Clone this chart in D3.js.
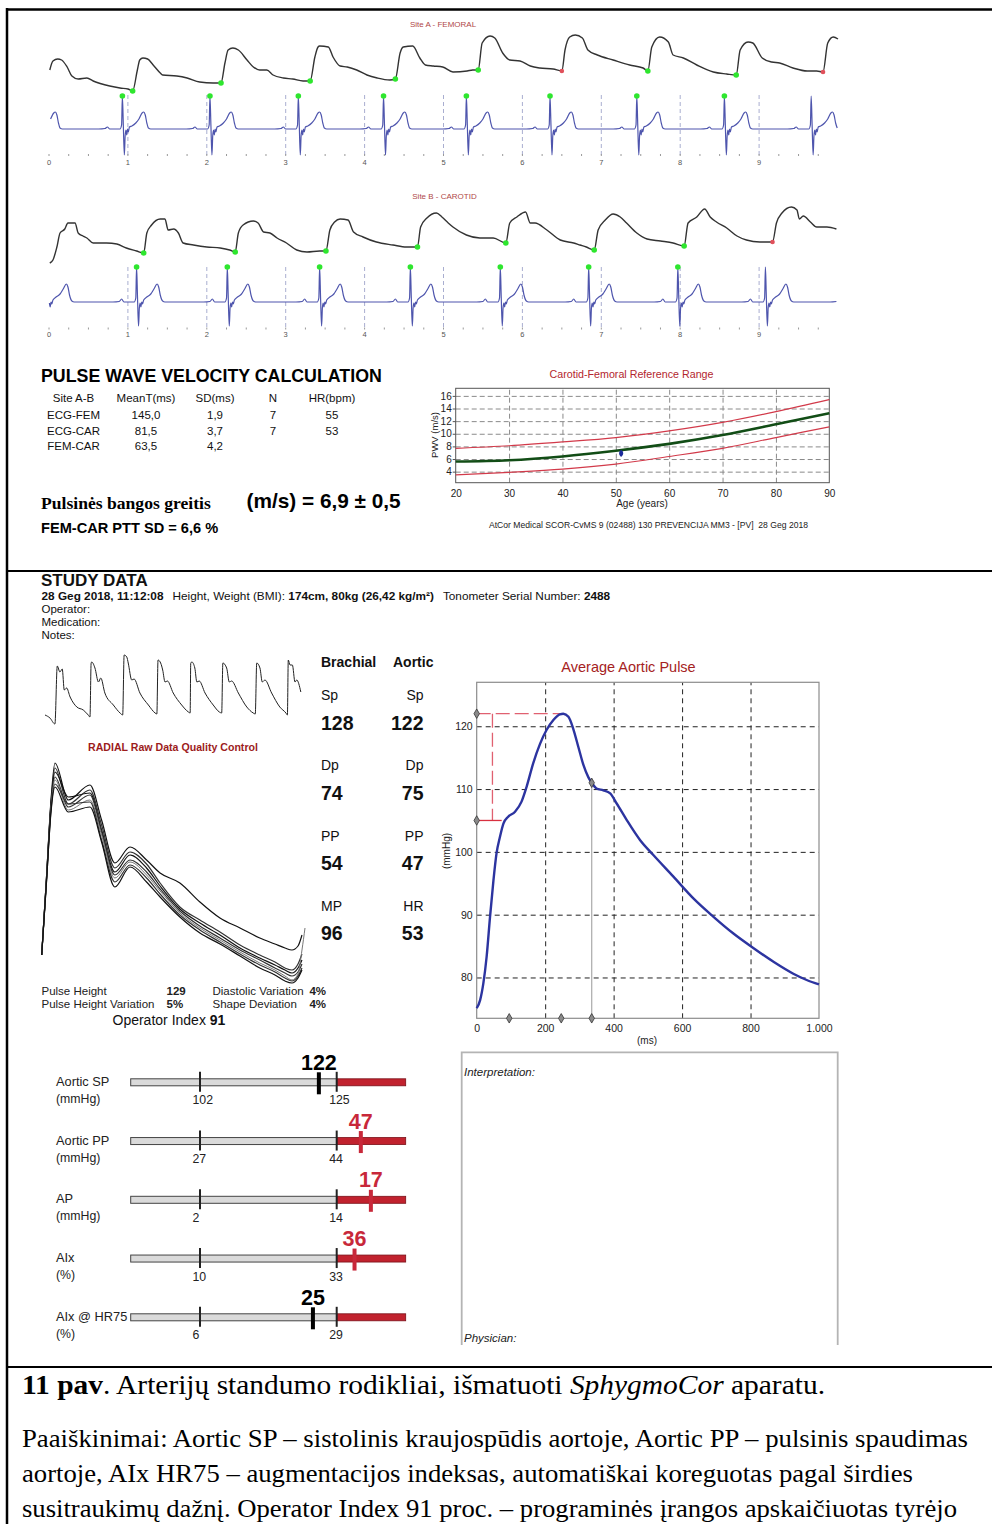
<!DOCTYPE html>
<html lang="lt">
<head>
<meta charset="utf-8">
<title>SphygmoCor – arterijų standumo rodikliai</title>
<script src="https://cdn.jsdelivr.net/npm/d3@7/dist/d3.min.js"></script>
<style>
  html, body { margin: 0; padding: 0; background: #fff; }
  svg { display: block; }
  text { font-family: "Liberation Sans", Arial, sans-serif; }
  text.serif { font-family: "Liberation Serif", "Times New Roman", serif; }
</style>
</head>
<body>
<svg id="report" width="992" height="1524" xmlns="http://www.w3.org/2000/svg"></svg>
<script>
// ===================== DATA =====================

// Strip-chart time axis (seconds)
const stripSeconds = [0, 1, 2, 3, 4, 5, 6, 7, 8, 9];

// Site A – femoral tonometer trace: [time s, amplitude]
const femoralPressure = [[0.01,30],[0.05,39],[0.11,41],[0.16,40],[0.23,33],[0.29,24],[0.37,21],[0.48,22],[0.56,19],[0.77,14],[0.90,12],[1.00,11],[1.06,9],
 [1.12,30],[1.15,40],[1.19,42],[1.25,41],[1.32,35],[1.41,27],[1.44,25],[1.62,24],[1.75,22],[1.91,18],[2.08,17],[2.18,17],
 [2.23,37],[2.27,50],[2.33,52],[2.40,50],[2.51,40],[2.59,33],[2.67,30],[2.76,30],[2.84,25],[2.97,22],[3.09,21],[3.22,19],[3.31,19],
 [3.37,43],[3.41,53],[3.43,54],[3.54,53],[3.60,43],[3.69,34],[3.78,33],[3.90,30],[4.03,25],[4.16,22],[4.32,20],[4.39,21],
 [4.45,47],[4.49,53],[4.61,54],[4.70,42],[4.77,35],[4.87,34],[4.99,33],[5.12,28],[5.30,29],[5.37,30],[5.44,30],
 [5.49,57],[5.59,64],[5.65,62],[5.75,47],[5.84,40],[5.97,39],[6.10,34],[6.22,32],[6.39,31],[6.50,29],
 [6.54,50],[6.60,63],[6.67,65],[6.76,62],[6.83,50],[6.95,45],[7.15,40],[7.36,35],[7.53,32],[7.59,29],
 [7.64,53],[7.74,63],[7.85,58],[7.91,45],[8.04,42],[8.21,35],[8.42,28],[8.59,26],[8.71,25],
 [8.76,50],[8.86,58],[8.92,57],[9.04,42],[9.16,38],[9.26,37],[9.43,32],[9.61,29],[9.73,29],[9.81,28],
 [9.87,57],[9.94,63],[10.00,61]];
const femoralFeet = [[1.06,9],[2.18,17],[3.31,19],[4.39,21],[5.44,30],[6.50,29],[7.59,29],[8.71,25],[9.81,28]];
const femoralFootRejected = [false,false,false,false,false,true,false,false,true];
const femoralRPeaks = [-0.19,0.93,2.04,3.16,4.24,5.29,6.35,7.45,8.56,9.66];
const femoralRDetected = [false,true,true,true,true,true,true,true,true,false];
// one ECG complex around the R wave: [seconds from R, amplitude]
const femoralBeat = [[-0.30,0],[-0.22,0.5],[-0.19,2],[-0.16,0],[-0.03,0],[-0.01,4],[0,33],[0.012,4],[0.025,-26],[0.035,-7],[0.045,-1],[0.055,-6],[0.065,0],[0.075,-3],[0.09,2],[0.12,3],[0.17,6],[0.21,10],[0.25,16],[0.27,17],[0.29,14],[0.31,6],[0.33,1],[0.36,0]];

// Site B – carotid tonometer trace
const carotidPressure = [[0.01,7],[0.05,10],[0.10,23],[0.14,37],[0.20,41],[0.24,47],[0.33,47],[0.37,37],[0.43,34],[0.48,32],[0.56,27],[0.73,27],[0.86,26],[0.98,22],[1.11,19],[1.20,17],
 [1.24,37],[1.30,45],[1.41,51],[1.47,51],[1.51,40],[1.58,41],[1.64,37],[1.70,27],[1.83,25],[2.00,23],[2.17,22],[2.29,20],[2.36,18],
 [2.40,37],[2.46,45],[2.59,49],[2.65,47],[2.72,38],[2.80,37],[2.89,32],[3.01,27],[3.14,20],[3.27,18],[3.43,19],[3.51,19],
 [3.56,40],[3.62,48],[3.69,51],[3.79,50],[3.86,38],[3.98,33],[4.15,28],[4.36,25],[4.53,23],[4.67,23],
 [4.71,43],[4.79,52],[4.91,57],[4.98,53],[5.06,47],[5.12,43],[5.29,35],[5.46,32],[5.63,32],[5.79,27],
 [5.84,47],[5.93,53],[6.04,58],[6.10,47],[6.16,47],[6.31,40],[6.48,30],[6.65,27],[6.73,25],[6.81,23],[6.91,20],
 [6.96,40],[7.05,50],[7.15,56],[7.24,53],[7.32,47],[7.45,37],[7.58,31],[7.75,29],[7.91,27],[8.05,24],
 [8.10,47],[8.21,53],[8.31,61],[8.38,53],[8.46,48],[8.59,42],[8.72,34],[8.84,30],[9.01,28],[9.17,28],
 [9.22,47],[9.29,57],[9.41,63],[9.48,60],[9.51,51],[9.56,54],[9.65,48],[9.73,43],[9.86,43],[9.98,41]];
const carotidFeet = [[1.20,17],[2.36,18],[3.51,19],[4.67,23],[5.79,27],[6.91,20],[8.05,24],[9.17,28]];
const carotidFootRejected = [false,false,false,false,false,false,false,true];
const carotidRPeaks = [-0.04,1.11,2.26,3.43,4.58,5.72,6.84,7.97,9.08,10.20];
const carotidRDetected = [false,true,true,true,true,true,true,true,false,false];
const carotidBeat = [[-0.30,0],[-0.22,0.5],[-0.19,3],[-0.16,0],[-0.03,0],[-0.01,4],[0,35],[0.012,4],[0.025,-24],[0.035,-6],[0.045,-1],[0.055,-5],[0.065,0],[0.075,-2],[0.09,2],[0.13,5],[0.18,8],[0.22,13],[0.26,18],[0.28,15],[0.30,7],[0.33,1],[0.36,0]];

// Pulse wave velocity table
const pwvHeader = ["Site A-B", "MeanT(ms)", "SD(ms)", "N", "HR(bpm)"];
const pwvRows = [
  ["ECG-FEM", "145,0", "1,9", "7", "55"],
  ["ECG-CAR", "81,5", "3,7", "7", "53"],
  ["FEM-CAR", "63,5", "4,2", "", ""]
];
const pwvMean = 6.9, pwvSd = 0.5, pttSdPct = 6.6, patientAge = 51;

// Carotid-femoral reference range (m/s by age)
const refAges   = [20, 30, 40, 50, 60, 70, 80, 90];
const refUpper  = [7.7, 8.1, 8.7, 9.4, 10.45, 11.8, 13.5, 15.4];
const refMedian = [5.6, 5.8, 6.4, 7.3, 8.4, 9.8, 11.5, 13.25];
const refLower  = [3.5, 3.9, 4.4, 5.2, 6.4, 7.7, 9.4, 11.1];
const refYTicks = [4, 6, 8, 10, 12, 14, 16];
const refXTicks = [20, 30, 40, 50, 60, 70, 80, 90];

// Radial raw trace: [time s, amplitude]
const radialRaw = [[0,15],[0.17,12],[0.34,6],[0.42,64],[0.51,58],[0.59,61],[0.66,40],[0.74,42],[0.86,33],[1.09,23],[1.31,20],[1.48,15],[1.54,13],
 [1.58,67],[1.60,68],[1.71,62],[1.83,48],[1.91,52],[2.05,37],[2.34,25],[2.57,17],[2.66,15],
 [2.71,75],[2.80,73],[2.85,67],[2.97,50],[3.05,51],[3.25,37],[3.54,25],[3.77,17],[3.83,16],
 [3.87,70],[3.96,67],[4.03,60],[4.11,48],[4.19,49],[4.39,37],[4.68,25],[4.91,18],[4.97,17],
 [4.99,67],[5.03,68],[5.13,62],[5.20,48],[5.28,49],[5.48,37],[5.76,25],[5.97,18],[6.05,17],
 [6.09,67],[6.22,62],[6.31,48],[6.39,49],[6.62,37],[6.91,23],[7.13,17],[7.20,16],
 [7.25,67],[7.36,62],[7.44,48],[7.53,50],[7.76,37],[8.04,23],[8.25,17],[8.30,15],
 [8.33,70],[8.39,65],[8.47,65],[8.56,48],[8.62,50],[8.76,38]];

// Radial quality-control overlay: shared time base (ms) and one amplitude list per pulse
const qcTimes = [0, 20, 40, 57, 114, 207, 257, 314, 379, 450, 508, 593, 679, 765, 851, 936, 1001, 1044, 1074, 1100, 1117, 1130];
const qcPulse1 = [35,110,190,227,190,205,170,127,143,130,117,107,88,72,62,52,46,42,40,44,55,null];
const qcPulse2 = [35,110,188,222,186,200,165,122,138,126,107,83,70,58,45,35,28,22,20,26,36,null];
const qcPulse3 = [35,110,186,218,193,197,160,118,135,122,104,81,67,55,42,32,25,20,17,22,30,null];
const qcPulse4 = [35,108,184,213,183,195,158,115,130,118,101,79,64,52,40,30,22,17,14,18,26,null];
const qcPulse5 = [35,108,182,210,180,190,155,112,128,115,99,77,62,50,38,27,20,14,10,16,40,62];
const qcPulse6 = [35,106,180,206,186,188,150,108,125,112,96,75,60,48,36,25,18,12,9,14,22,null];
const qcPulse7 = [35,106,178,203,178,183,148,103,123,108,93,73,57,46,34,22,15,9,7,12,20,null];

const qualityLeft  = [["Pulse Height", "129"], ["Pulse Height Variation", "5%"]];
const qualityRight = [["Diastolic Variation", "4%"], ["Shape Deviation", "4%"]];
const operatorIndex = 91;

// Brachial / aortic pressures
const brachialNames  = ["Sp", "Dp", "PP", "MP"];
const brachialValues = [128, 74, 54, 96];
const aorticNames    = ["Sp", "Dp", "PP", "HR"];
const aorticValues   = [122, 75, 47, 53];

// Average aortic pulse (ms, mmHg)
const aorticMs   = [0,10,19.5,29,39,49,58,68,78,92,112,131,146,165,185,204,224,243,253,268,282,297,312,326,336,350,370,390,409,438,477,516,574,633,691,750,808,867,925,964,1000];
const aorticMmHg = [75.1,76.4,79.1,83.3,89.7,95.5,99.8,102.4,104.5,105.6,106.4,108.0,110.4,114.1,117.2,119.4,121.0,121.9,122.0,121.5,119.6,116.7,113.8,111.9,111.0,110.1,109.8,109.3,107.7,105.1,101.9,99.5,96.1,92.6,89.7,87.0,84.7,82.5,80.6,79.6,78.9];
const aorticTimeMarks = [95, 247, 336];
const aorticYTicks = [80, 90, 100, 110, 120];
const aorticXTicks = [0, 200, 400, 600, 800, 1000];

// Parameter range bars
const barLabels = ["Aortic SP", "Aortic PP", "AP", "AIx", "AIx @ HR75"];
const barUnits  = ["(mmHg)", "(mmHg)", "(mmHg)", "(%)", "(%)"];
const barLow    = [102, 27, 2, 10, 6];
const barHigh   = [125, 44, 14, 33, 29];
const barValue  = [122, 47, 17, 36, 25];

// ===================== DRAWING =====================
const svg = d3.select("#report");
const fmtComma = (v, d) => v.toFixed(d).replace(".", ",");
const RED_TXT = "#b3262e";
const SANS = "'Liberation Sans', Arial, sans-serif";

svg.append("rect").attr("width", 992).attr("height", 1524).attr("fill", "#fff");

// page frame and section rules
const rules = svg.append("g").attr("stroke", "#000");
rules.append("line").attr("x1", 7).attr("x2", 7).attr("y1", 8).attr("y2", 1524).attr("stroke-width", 2.5);
rules.append("line").attr("x1", 6).attr("x2", 992).attr("y1", 9.5).attr("y2", 9.5).attr("stroke-width", 2.5);
rules.append("line").attr("x1", 6).attr("x2", 992).attr("y1", 571).attr("y2", 571).attr("stroke-width", 2);
rules.append("line").attr("x1", 6).attr("x2", 992).attr("y1", 1367).attr("y2", 1367).attr("stroke-width", 2);

// ---------- ECG + tonometer strips ----------
const xSec = d3.scaleLinear().domain([0, 10]).range([49, 838]);

function ecgSeries(rTimes, beat) {
  const pts = [];
  rTimes.forEach(r => beat.forEach(([dt, a]) => pts.push([r + dt, a])));
  return pts.filter(p => p[0] >= 0 && p[0] <= 10);
}

function drawStrip(cfg) {
  const g = svg.append("g");
  const yP = d3.scaleLinear().domain([0, 70]).range([cfg.pBase, cfg.pBase - 70]);
  const yE = d3.scaleLinear().domain([-30, 40]).range([cfg.eBase + 30, cfg.eBase - 40]);

  g.append("text").attr("x", cfg.titleX).attr("y", cfg.titleY).attr("text-anchor", "middle")
    .attr("font-size", 8).attr("fill", "#b04848").text(cfg.title);

  // dashed second markers
  g.selectAll(".sec").data(stripSeconds.filter(s => s > 0)).join("line")
    .attr("x1", d => xSec(d)).attr("x2", d => xSec(d))
    .attr("y1", cfg.gridTop).attr("y2", cfg.gridBottom)
    .attr("stroke", "#a9aed0").attr("stroke-width", 1).attr("stroke-dasharray", "4,3");

  // quarter-second ticks and labels
  g.selectAll(".qt").data(d3.range(0, 40).map(i => i / 4)).join("line")
    .attr("x1", d => xSec(d)).attr("x2", d => xSec(d))
    .attr("y1", cfg.tickY - 1).attr("y2", cfg.tickY + 1)
    .attr("stroke", "#999").attr("stroke-width", 1);
  g.selectAll(".sl").data(stripSeconds).join("text")
    .attr("x", d => xSec(d)).attr("y", cfg.labelY).attr("text-anchor", "middle")
    .attr("font-size", 7.5).attr("fill", "#555").text(d => d);

  // ECG
  const lineE = d3.line().x(d => xSec(d[0])).y(d => yE(d[1])).curve(d3.curveMonotoneX);
  g.append("path").datum(ecgSeries(cfg.rPeaks, cfg.beat)).attr("d", lineE)
    .attr("fill", "none").attr("stroke", "#4e55ad").attr("stroke-width", 1.2);
  const rTop = d3.max(cfg.beat, d => d[1]);
  g.selectAll(".rd").data(cfg.rPeaks.filter((r, i) => cfg.rDetected[i])).join("circle")
    .attr("cx", d => xSec(d)).attr("cy", yE(rTop)).attr("r", 2.8).attr("fill", "#2ee62e");

  // tonometer pressure
  const lineP = d3.line().x(d => xSec(d[0])).y(d => yP(d[1])).curve(d3.curveMonotoneX);
  g.append("path").datum(cfg.pressure).attr("d", lineP)
    .attr("fill", "none").attr("stroke", "#333").attr("stroke-width", 1.4);
  g.selectAll(".ft").data(cfg.feet).join("circle")
    .attr("cx", d => xSec(d[0])).attr("cy", d => yP(d[1]))
    .attr("r", (d, i) => cfg.rejected[i] ? 2.3 : 2.8)
    .attr("fill", (d, i) => cfg.rejected[i] ? "#e0505a" : "#2ee62e");
}

drawStrip({ title: "Site A - FEMORAL", titleX: 443, titleY: 26.5, pBase: 100, eBase: 129,
  gridTop: 95, gridBottom: 155, tickY: 155, labelY: 165,
  pressure: femoralPressure, feet: femoralFeet, rejected: femoralFootRejected,
  rPeaks: femoralRPeaks, rDetected: femoralRDetected, beat: femoralBeat });

drawStrip({ title: "Site B - CAROTID", titleX: 444.5, titleY: 199, pBase: 270, eBase: 302,
  gridTop: 267, gridBottom: 327, tickY: 328.5, labelY: 337,
  pressure: carotidPressure, feet: carotidFeet, rejected: carotidFootRejected,
  rPeaks: carotidRPeaks, rDetected: carotidRDetected, beat: carotidBeat });

// ---------- PWV calculation text ----------
const pwv = svg.append("g");
pwv.append("text").attr("x", 41).attr("y", 381.5).attr("font-size", 17.8).attr("font-weight", "bold")
  .text("PULSE WAVE VELOCITY CALCULATION");
const colX = [73.5, 146, 215, 273, 332];
const rowY = [402, 418.5, 434.5, 450];
[pwvHeader, ...pwvRows].forEach((row, r) => {
  row.forEach((cell, c) => {
    pwv.append("text").attr("x", colX[c]).attr("y", rowY[r]).attr("text-anchor", "middle")
      .attr("font-size", 11.5).attr("fill", "#111").text(cell);
  });
});
pwv.append("text").attr("class", "serif").attr("x", 41).attr("y", 508.5).attr("font-size", 17.6).attr("font-weight", "bold")
  .text("Pulsinės bangos greitis");
pwv.append("text").attr("x", 246.5).attr("y", 508).attr("font-size", 20.8).attr("font-weight", "bold")
  .text(`(m/s) = ${fmtComma(pwvMean, 1)} ± ${fmtComma(pwvSd, 1)}`);
pwv.append("text").attr("x", 41).attr("y", 533).attr("font-size", 14.6).attr("font-weight", "bold")
  .text(`FEM-CAR PTT SD = ${fmtComma(pttSdPct, 1)} %`);

// ---------- Reference range chart ----------
const xAge = d3.scaleLinear().domain([20, 90]).range([455.7, 829.3]);
const yPwv = d3.scaleLinear().domain([2.25, 17.2]).range([482.7, 388.3]);
const ref = svg.append("g");
ref.append("text").attr("x", 631.5).attr("y", 378).attr("text-anchor", "middle")
  .attr("font-size", 10.7).attr("fill", RED_TXT).text("Carotid-Femoral Reference Range");

ref.append("g").attr("transform", `translate(0,${yPwv.range()[0]})`)
  .call(d3.axisBottom(xAge).tickValues(refXTicks.slice(1, -1)).tickSize(-(yPwv.range()[0] - yPwv.range()[1])).tickFormat(""))
  .call(a => a.select(".domain").remove())
  .call(a => a.selectAll("line").attr("stroke", "#8a8a8a").attr("stroke-dasharray", "5,3"));
ref.append("g").attr("transform", `translate(${xAge.range()[0]},0)`)
  .call(d3.axisLeft(yPwv).tickValues(refYTicks).tickSize(-(xAge.range()[1] - xAge.range()[0])).tickFormat(""))
  .call(a => a.select(".domain").remove())
  .call(a => a.selectAll("line").attr("stroke", "#8a8a8a").attr("stroke-dasharray", "5,3"));
ref.append("rect").attr("x", xAge.range()[0]).attr("y", yPwv.range()[1])
  .attr("width", xAge.range()[1] - xAge.range()[0]).attr("height", yPwv.range()[0] - yPwv.range()[1])
  .attr("fill", "none").attr("stroke", "#555").attr("stroke-width", 1);

ref.append("g").attr("transform", `translate(${xAge.range()[0]},0)`)
  .call(d3.axisLeft(yPwv).tickValues(refYTicks).tickSize(3).tickPadding(1))
  .call(a => a.select(".domain").remove())
  .call(a => a.selectAll("line").attr("stroke", "#555"))
  .call(a => a.selectAll("text").attr("font-size", 10).attr("font-family", SANS).attr("fill", "#222"));
ref.append("g").attr("transform", `translate(0,${yPwv.range()[0]})`)
  .call(d3.axisBottom(xAge).tickValues(refXTicks).tickSize(0).tickPadding(7))
  .call(a => a.select(".domain").remove())
  .call(a => a.selectAll("text").attr("font-size", 10).attr("font-family", SANS).attr("fill", "#222"));
ref.append("text").attr("x", 642).attr("y", 507).attr("text-anchor", "middle").attr("font-size", 10).attr("fill", "#222").text("Age (years)");
ref.append("text").attr("transform", "translate(438,435) rotate(-90)").attr("text-anchor", "middle")
  .attr("font-size", 9.5).attr("fill", "#222").text("PWV (m/s)");

const refLine = vals => d3.line().x((d, i) => xAge(refAges[i])).y(d => yPwv(d)).curve(d3.curveMonotoneX)(vals);
ref.append("path").attr("d", refLine(refUpper)).attr("fill", "none").attr("stroke", "#d23a4a").attr("stroke-width", 1.2);
ref.append("path").attr("d", refLine(refLower)).attr("fill", "none").attr("stroke", "#d23a4a").attr("stroke-width", 1.2);
ref.append("path").attr("d", refLine(refMedian)).attr("fill", "none").attr("stroke", "#124d16").attr("stroke-width", 2.6);
ref.append("line").attr("x1", xAge(patientAge)).attr("x2", xAge(patientAge))
  .attr("y1", yPwv(pwvMean - pwvSd)).attr("y2", yPwv(pwvMean + pwvSd)).attr("stroke", "#1b2a9a").attr("stroke-width", 1.5);
ref.append("ellipse").attr("cx", xAge(patientAge)).attr("cy", yPwv(pwvMean)).attr("rx", 2).attr("ry", 2.8).attr("fill", "#1b2a9a");

ref.append("text").attr("x", 648.5).attr("y", 528).attr("text-anchor", "middle").attr("font-size", 8.6).attr("fill", "#222")
  .attr("xml:space", "preserve").text("AtCor Medical SCOR-CvMS 9 (02488) 130 PREVENCIJA MM3 - [PV]  28 Geg 2018");

// ---------- Study data header ----------
const sd = svg.append("g").attr("fill", "#111");
sd.append("text").attr("x", 41).attr("y", 586).attr("font-size", 17).attr("font-weight", "bold").text("STUDY DATA");
const info = sd.append("text").attr("x", 41.5).attr("y", 600).attr("font-size", 11.8);
info.append("tspan").attr("font-weight", "bold").text("28 Geg 2018, 11:12:08");
info.append("tspan").attr("dx", 9).text("Height, Weight (BMI): ");
info.append("tspan").attr("font-weight", "bold").text("174cm, 80kg (26,42 kg/m²)");
info.append("tspan").attr("dx", 9).text("Tonometer Serial Number: ");
info.append("tspan").attr("font-weight", "bold").text("2488");
["Operator:", "Medication:", "Notes:"].forEach((t, i) =>
  sd.append("text").attr("x", 41.5).attr("y", 612.5 + i * 13).attr("font-size", 11.5).text(t));

// ---------- Radial raw trace ----------
const xRad = d3.scaleLinear().domain([0, 8.8]).range([45, 302]);
const yRad = d3.scaleLinear().domain([0, 75]).range([730, 655]);
svg.append("path").datum(radialRaw)
  .attr("d", d3.line().x(d => xRad(d[0])).y(d => yRad(d[1])).curve(d3.curveMonotoneX))
  .attr("fill", "none").attr("stroke", "#222").attr("stroke-width", 1);

svg.append("text").attr("x", 173).attr("y", 750.5).attr("text-anchor", "middle").attr("font-size", 10.6)
  .attr("font-weight", "bold").attr("fill", "#9c1c1c").text("RADIAL Raw Data Quality Control");

// ---------- Quality-control overlay ----------
const xQc = d3.scaleLinear().domain([0, 1130]).range([41.7, 305]);
const yQc = d3.scaleLinear().domain([0, 230]).range([990, 760]);
const qcLine = d3.line().x(d => xQc(d[0])).y(d => yQc(d[1])).curve(d3.curveMonotoneX);
[qcPulse1, qcPulse2, qcPulse3, qcPulse4, qcPulse5, qcPulse6, qcPulse7].forEach((vals, k) => {
  svg.append("path").datum(qcTimes.map((t, i) => [t, vals[i]]).filter(d => d[1] !== null))
    .attr("d", qcLine).attr("fill", "none")
    .attr("stroke", k === 4 ? "#777" : (k % 2 ? "#333" : "#111")).attr("stroke-width", k === 4 ? 1 : 1.2);
});

const q = svg.append("g").attr("font-size", 11.5).attr("fill", "#222");
qualityLeft.forEach(([name, val], i) => {
  q.append("text").attr("x", 41.5).attr("y", 995 + i * 12.5).text(name);
  q.append("text").attr("x", 166.5).attr("y", 995 + i * 12.5).attr("font-weight", "bold").text(val);
});
qualityRight.forEach(([name, val], i) => {
  q.append("text").attr("x", 212.5).attr("y", 995 + i * 12.5).text(name);
  q.append("text").attr("x", 326).attr("y", 995 + i * 12.5).attr("text-anchor", "end").attr("font-weight", "bold").text(val);
});
const oi = svg.append("text").attr("x", 112.5).attr("y", 1025).attr("font-size", 14).attr("fill", "#111");
oi.append("tspan").text("Operator Index ");
oi.append("tspan").attr("font-weight", "bold").text(operatorIndex);

// ---------- Brachial / aortic pressures ----------
const bp = svg.append("g").attr("fill", "#111");
bp.append("text").attr("x", 321).attr("y", 667).attr("font-size", 14).attr("font-weight", "bold").text("Brachial");
bp.append("text").attr("x", 393).attr("y", 667).attr("font-size", 14).attr("font-weight", "bold").text("Aortic");
brachialNames.forEach((n, i) => {
  const y0 = 700 + i * 70.3;
  bp.append("text").attr("x", 321).attr("y", y0).attr("font-size", 14).text(n);
  bp.append("text").attr("x", 321).attr("y", y0 + 29.5).attr("font-size", 19.5).attr("font-weight", "bold").text(brachialValues[i]);
  bp.append("text").attr("x", 423.5).attr("y", y0).attr("font-size", 14).attr("text-anchor", "end").text(aorticNames[i]);
  bp.append("text").attr("x", 423.5).attr("y", y0 + 29.5).attr("font-size", 19.5).attr("font-weight", "bold").attr("text-anchor", "end").text(aorticValues[i]);
});

// ---------- Average aortic pulse ----------
const xMs = d3.scaleLinear().domain([0, 1000]).range([476.7, 819]);
const yMm = d3.scaleLinear().domain([73.5, 127]).range([1018.3, 682.3]);
const ap = svg.append("g");
ap.append("text").attr("x", 628.5).attr("y", 672).attr("text-anchor", "middle").attr("font-size", 14.5)
  .attr("fill", "#a52222").text("Average Aortic Pulse");
ap.append("g").attr("transform", `translate(0,${yMm.range()[0]})`)
  .call(d3.axisBottom(xMs).tickValues([200, 400, 600, 800]).tickSize(-(yMm.range()[0] - yMm.range()[1])).tickFormat(""))
  .call(a => a.select(".domain").remove())
  .call(a => a.selectAll("line").attr("stroke", "#222").attr("stroke-dasharray", "5,4"));
ap.append("g").attr("transform", `translate(${xMs.range()[0]},0)`)
  .call(d3.axisLeft(yMm).tickValues(aorticYTicks).tickSize(-(xMs.range()[1] - xMs.range()[0])).tickFormat(""))
  .call(a => a.select(".domain").remove())
  .call(a => a.selectAll("line").attr("stroke", "#222").attr("stroke-dasharray", "5,4"));
ap.append("rect").attr("x", xMs.range()[0]).attr("y", yMm.range()[1])
  .attr("width", xMs.range()[1] - xMs.range()[0]).attr("height", yMm.range()[0] - yMm.range()[1])
  .attr("fill", "none").attr("stroke", "#8c8c8c").attr("stroke-width", 1.2);
ap.append("g").attr("transform", `translate(${xMs.range()[0]},0)`)
  .call(d3.axisLeft(yMm).tickValues(aorticYTicks).tickSize(0).tickPadding(4))
  .call(a => a.select(".domain").remove())
  .call(a => a.selectAll("text").attr("font-size", 10.5).attr("font-family", SANS).attr("fill", "#222"));
ap.append("g").attr("transform", `translate(0,${yMm.range()[0]})`)
  .call(d3.axisBottom(xMs).tickValues(aorticXTicks).tickSize(0).tickPadding(6)
    .tickFormat(d => d === 1000 ? "1.000" : d))
  .call(a => a.select(".domain").remove())
  .call(a => a.selectAll("text").attr("font-size", 10.5).attr("font-family", SANS).attr("fill", "#222"));
ap.append("text").attr("x", 647).attr("y", 1043.5).attr("text-anchor", "middle").attr("font-size", 10).attr("fill", "#222").text("(ms)");
ap.append("text").attr("transform", "translate(450,851) rotate(-90)").attr("text-anchor", "middle")
  .attr("font-size", 10).attr("fill", "#222").text("(mmHg)");

// augmentation markers
const spAortic = aorticValues[0];
const apValue = barValue[2];
const p1 = spAortic - apValue;
const peakMs = aorticMs[aorticMmHg.indexOf(d3.max(aorticMmHg))];
ap.append("line").attr("x1", xMs(0)).attr("x2", xMs(peakMs)).attr("y1", yMm(spAortic)).attr("y2", yMm(spAortic))
  .attr("stroke", "#e06070").attr("stroke-width", 1.3).attr("stroke-dasharray", "14,5");
ap.append("line").attr("x1", xMs(46)).attr("x2", xMs(46)).attr("y1", yMm(spAortic)).attr("y2", yMm(p1))
  .attr("stroke", "#e06070").attr("stroke-width", 1.3).attr("stroke-dasharray", "14,5");
ap.append("line").attr("x1", xMs(0)).attr("x2", xMs(73)).attr("y1", yMm(p1)).attr("y2", yMm(p1))
  .attr("stroke", "#d83040").attr("stroke-width", 1.3);
const edMs = aorticTimeMarks[2];
ap.append("line").attr("x1", xMs(edMs)).attr("x2", xMs(edMs)).attr("y1", yMm(111)).attr("y2", yMm.range()[0])
  .attr("stroke", "#aaa").attr("stroke-width", 1.2);

ap.append("path").datum(aorticMs.map((t, i) => [t, aorticMmHg[i]]))
  .attr("d", d3.line().x(d => xMs(d[0])).y(d => yMm(d[1])).curve(d3.curveMonotoneX))
  .attr("fill", "none").attr("stroke", "#2c34a0").attr("stroke-width", 2.4);

const diamond = d3.symbol().type(d3.symbolDiamond).size(26);
const diamonds = [[0, spAortic], [0, p1], [edMs, 111], ...aorticTimeMarks.map(t => [t, yMm.domain()[0]])];
ap.selectAll(".dm").data(diamonds).join("path")
  .attr("d", diamond).attr("transform", d => `translate(${xMs(d[0])},${yMm(d[1])})`)
  .attr("fill", "#8a8a8a").attr("stroke", "#333").attr("stroke-width", 0.8);

// ---------- Range bars ----------
const bars = svg.append("g");
const barX0 = 130.7, barX1 = 405.7, tickLoX = 200, tickHiX = 336.7;
barLabels.forEach((label, i) => {
  const cy = 1082.3 + i * 58.75;
  const sx = d3.scaleLinear().domain([barLow[i], barHigh[i]]).range([tickLoX, tickHiX]);
  const high = barValue[i] > barHigh[i];
  bars.append("text").attr("x", 56).attr("y", cy + 3.5).attr("font-size", 12.8).attr("fill", "#222").text(label);
  bars.append("text").attr("x", 56).attr("y", cy + 20.5).attr("font-size", 12.3).attr("fill", "#222").text(barUnits[i]);
  bars.append("rect").attr("x", barX0).attr("y", cy - 3.5).attr("width", sx(barHigh[i]) - barX0).attr("height", 7)
    .attr("fill", "#dadada").attr("stroke", "#444").attr("stroke-width", 1);
  bars.append("rect").attr("x", sx(barHigh[i])).attr("y", cy - 3.5).attr("width", barX1 - sx(barHigh[i])).attr("height", 7)
    .attr("fill", "#c1222e").attr("stroke", "#7a1018").attr("stroke-width", 0.8);
  [barLow[i], barHigh[i]].forEach(v => {
    bars.append("line").attr("x1", sx(v)).attr("x2", sx(v)).attr("y1", cy - 10.5).attr("y2", cy + 9.5)
      .attr("stroke", "#222").attr("stroke-width", 2);
    bars.append("text").attr("x", sx(v) - 7.5).attr("y", cy + 22).attr("font-size", 12.3).attr("fill", "#222").text(v);
  });
  const mx = sx(barValue[i]);
  bars.append("rect").attr("x", mx - 2).attr("y", cy - 10).attr("width", 4).attr("height", 22)
    .attr("fill", high ? "#c8283a" : "#000");
  bars.append("text").attr("x", mx).attr("y", cy - 12.5).attr("text-anchor", "middle")
    .attr("font-size", 21.5).attr("font-weight", "bold").attr("fill", high ? "#c8283a" : "#000").text(barValue[i]);
});

// ---------- Interpretation box ----------
const ib = svg.append("g");
ib.append("path").attr("d", "M461.7,1345 V1052.3 H837.7 V1345")
  .attr("fill", "none").attr("stroke", "#b4b4b4").attr("stroke-width", 1.8);
ib.append("text").attr("x", 464).attr("y", 1075.5).attr("font-size", 11.5).attr("font-style", "italic").attr("fill", "#222").text("Interpretation:");
ib.append("text").attr("x", 464).attr("y", 1341.5).attr("font-size", 11.5).attr("font-style", "italic").attr("fill", "#222").text("Physician:");

// ---------- Caption ----------
const cap = svg.append("text").attr("class", "serif").attr("x", 22).attr("y", 1394).attr("font-size", 27)
  .attr("textLength", 803).attr("lengthAdjust", "spacingAndGlyphs");
cap.append("tspan").attr("font-weight", "bold").text("11 pav");
cap.append("tspan").text(". Arterijų standumo rodikliai, išmatuoti ");
cap.append("tspan").attr("font-style", "italic").text("SphygmoCor");
cap.append("tspan").text(" aparatu.");

const notes = [
  ["Paaiškinimai: Aortic SP – sistolinis kraujospūdis aortoje, Aortic PP – pulsinis spaudimas", 946],
  ["aortoje, AIx HR75 – augmentacijos indeksas, automatiškai koreguotas pagal širdies", 891],
  ["susitraukimų dažnį. Operator Index 91 proc. – programinės įrangos apskaičiuotas tyrėjo", 935]
];
notes.forEach(([t, w], i) => {
  svg.append("text").attr("class", "serif").attr("x", 22).attr("y", 1447 + i * 35).attr("font-size", 25.5)
    .attr("textLength", w).attr("lengthAdjust", "spacingAndGlyphs").text(t);
});
</script>
</body>
</html>
